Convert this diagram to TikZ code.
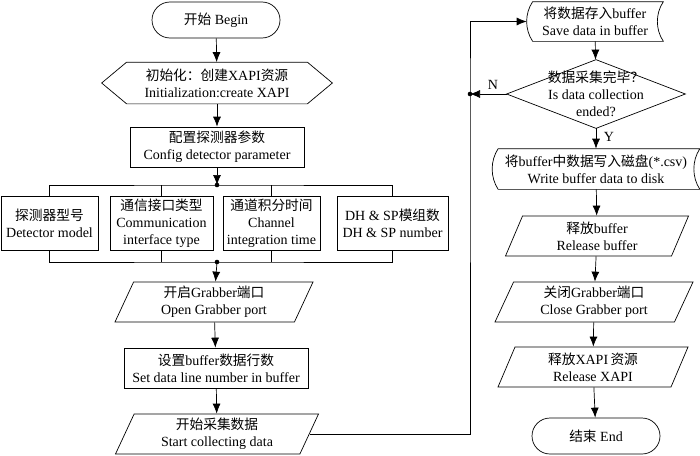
\documentclass[tikz,border=0pt]{standalone}
\usepackage{fontspec}
\setmainfont{Liberation Serif}
\newfontfamily\zhfont[Scale=0.98]{Noto Sans CJK SC}
\newcommand{\zh}[1]{{\zhfont #1}}
\usetikzlibrary{calc,arrows.meta,shapes.geometric}
\def\hexbox(#1)(#2){\draw (#1.west) -- ($(#1.north west)+(#2,0)$) -- ($(#1.north east)+(-#2,0)$) -- (#1.east) -- ($(#1.south east)+(-#2,0)$) -- ($(#1.south west)+(#2,0)$) -- cycle;}
\def\storebox(#1)(#2){\draw ($(#1.north west)+(#2,0)$) .. controls ($(#1.north west)!0.3!(#1.south west)+(-#2/3,0)$) and ($(#1.north west)!0.7!(#1.south west)+(-#2/3,0)$) .. ($(#1.south west)+(#2,0)$) -- (#1.south east) .. controls ($(#1.north east)!0.7!(#1.south east)+(-4*#2/3,0)$) and ($(#1.north east)!0.3!(#1.south east)+(-4*#2/3,0)$) .. (#1.north east) -- cycle;}
\tikzset{
	every node/.style={font=\fontsize{14}{17}\selectfont, align=center},
	termbox/.style={draw, rounded corners=18pt, minimum width=128, minimum height=36},
	procbox/.style={draw, minimum height=40, inner xsep=0pt, inner ysep=1pt},
	plainbox/.style={minimum height=40, inner xsep=0pt, inner ysep=1pt},
	iobox/.style={draw, trapezium, trapezium left angle=61, trapezium right angle=119, trapezium stretches body, minimum height=40, inner xsep=0pt, inner ysep=1pt},
	arr/.style={-{Latex[length=10pt,width=8pt]}},
}

\begin{document}
\begin{tikzpicture}[x=1pt,y=-1pt,line width=0.7pt]
		%%%%% START %%%%%
		\useasboundingbox (0,0) rectangle (700,455);
		
		% left column
		\node[termbox] (begin) at (216,20) {\zh{开始} Begin};
		\node[plainbox, minimum width=230, minimum height=41] (init) at (217,83) {\zh{初始化：创建}XAPI\zh{资源}\\Initialization:create XAPI};
		\hexbox(init)(25)
		\node[procbox, minimum width=174] (config) at (217,147) {\zh{配置探测器参数}\\Config detector parameter};
		
		\node[procbox, minimum width=97, minimum height=54] (model) at (49.5,223) {\zh{探测器型号}\\Detector model};
		\node[procbox, minimum width=103, minimum height=54] (iface) at (161.5,223) {\zh{通信接口类型}\\Communication\\interface type};
		\node[procbox, minimum width=97, minimum height=54] (integ) at (271.5,223) {\zh{通道积分时间}\\Channel\\integration time};
		\node[procbox, minimum width=111, minimum height=54] (dhsp) at (392.5,223) {DH \& SP\zh{模组数}\\DH \& SP number};
		
		\coordinate (topbus) at (217,185);
		\coordinate (botbus) at (217,262);
		
		\node[iobox, minimum width=198] (open) at (214,302) {\zh{开启}Grabber\zh{端口}\\Open Grabber port};
		\node[procbox, minimum width=184] (setbuf) at (216,368) {\zh{设置}buffer\zh{数据行数}\\Set data line number in buffer};
		\node[iobox, minimum width=203] (start) at (217,434) {\zh{开始采集数据}\\Start collecting data};
		
		% right column
		\node[plainbox, minimum width=136, minimum height=39] (save) at (595,21.5) {\zh{将数据存入}buffer\\Save data in buffer};
		\storebox(save)(6)
		\node[plainbox, minimum width=178, minimum height=68] (done) at (596,94) {\zh{数据采集完毕？}\\Is data collection\\ended?};
		\draw (done.north) -- (done.east) -- (done.south) -- (done.west) -- cycle;
		\node[plainbox, minimum width=207] (write) at (596,169) {\zh{将}buffer\zh{中数据写入磁盘}(*.csv)\\Write buffer data to disk};
		\storebox(write)(6)
		\node[iobox, minimum width=183] (relbuf) at (597,236) {\zh{释放}buffer\\Release buffer};
		\node[iobox, minimum width=198] (close) at (594,302) {\zh{关闭}Grabber\zh{端口}\\Close Grabber port};
		\node[iobox, minimum width=190] (relxapi) at (593,367) {\zh{释放}XAPI\,\zh{资源}\\Release XAPI};
		\node[termbox] (end) at (596,436) {\zh{结束} End};
		
		\coordinate (junc) at (470,94);
		
		% connectors
		\draw[arr] (begin) -- (init);
		\draw[arr] (init) -- (config);
		\draw[arr] (config) -- (topbus);
		\draw (model.north) |- (topbus) -| (dhsp.north);
		\draw (iface.north) -- (iface.north |- topbus);
		\draw (integ.north) -- (integ.north |- topbus);
		\draw (model.south) |- (botbus) -| (dhsp.south);
		\draw (iface.south) -- (iface.south |- botbus);
		\draw (integ.south) -- (integ.south |- botbus);
		\fill (topbus) circle (2.3);
		\fill (botbus) circle (2.3);
		\draw[arr] (botbus) -- (open);
		\draw[arr] (open) -- (setbuf);
		\draw[arr] (setbuf) -- (start);
		
		\draw[arr] (start.east) -| (junc) |- (save.west);
		\draw[arr] (save) -- (done);
		\draw[arr] (done.west) -- (junc);
		\fill (junc) circle (2.3);
		\node (nlab) at (493,85) {N};
		\draw[arr] (done.south) -- (write.north);
		\node (ylab) at (609,137) {Y};
		\draw[arr] (write) -- (relbuf);
		\draw[arr] (relbuf) -- (close);
		\draw[arr] (close) -- (relxapi);
		\draw[arr] (relxapi) -- (end);
		
		%%%%% END %%%%%
	\end{tikzpicture}
\end{document}
